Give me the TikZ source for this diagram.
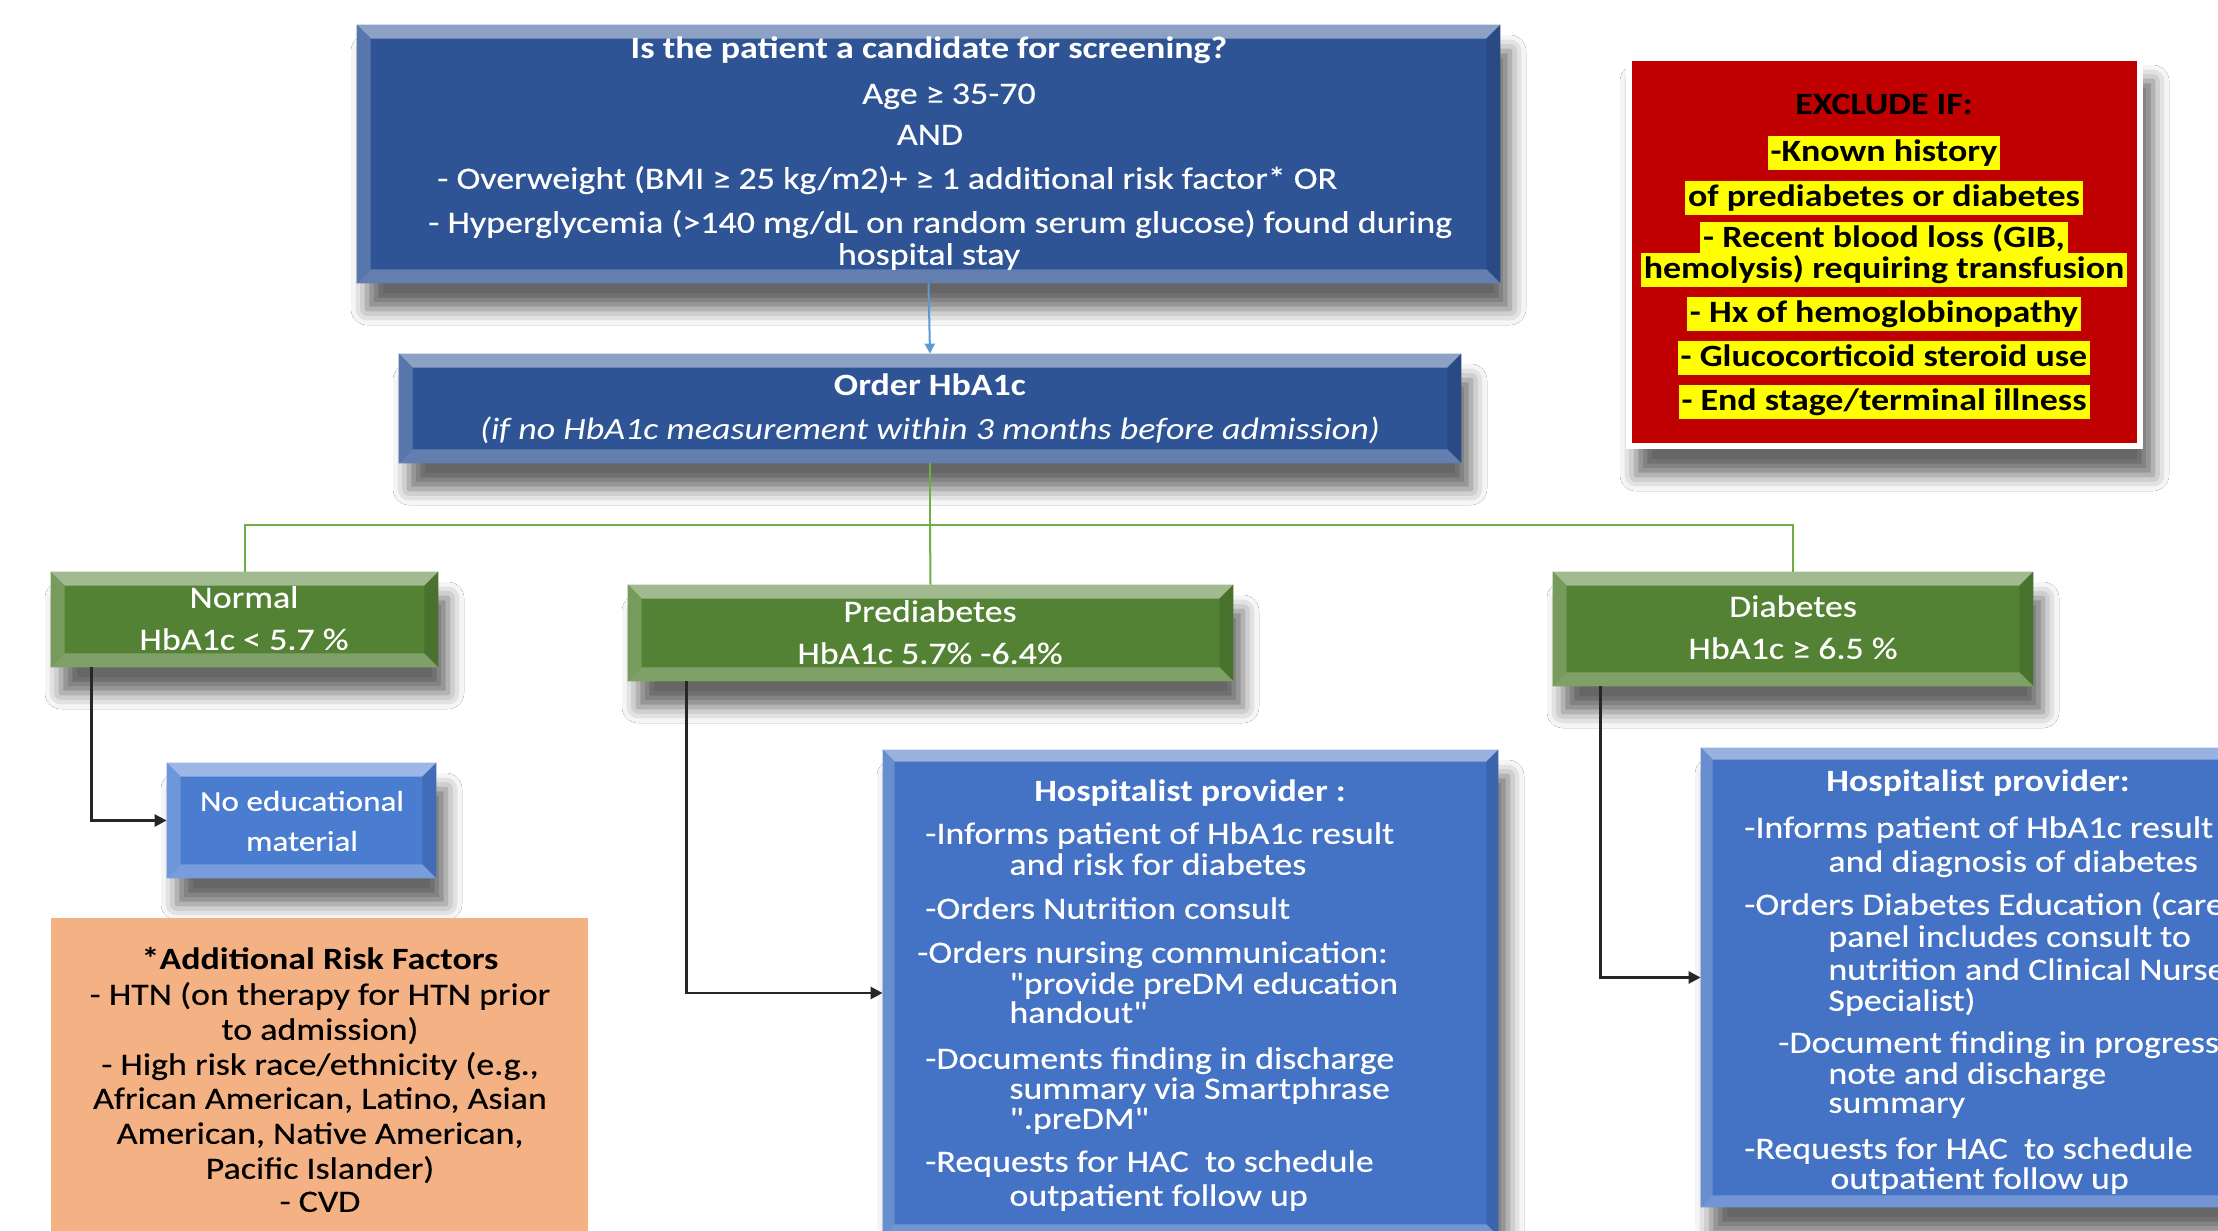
\documentclass[tikz,border=0pt]{standalone}
\usepackage{fontspec}
\setmainfont{Carlito}[FakeStretch=1.16, Ligatures=TeXOff, UprightFeatures={FakeBold=0.4}]
\usetikzlibrary{calc,fit,shadows.blur,arrows.meta}
\definecolor{dblue}{RGB}{47,84,150}
\definecolor{mblue}{RGB}{68,114,196}
\definecolor{eblue}{RGB}{74,124,208}
\definecolor{dgreen}{RGB}{84,130,53}
\definecolor{lgreen}{RGB}{112,173,71}
\definecolor{dred}{RGB}{192,0,0}
\definecolor{salmon}{RGB}{244,177,131}
\definecolor{lblue}{RGB}{91,155,213}
\definecolor{hlyellow}{RGB}{255,255,0}
\newcommand\myfs{\fontsize{15.5}{17}\selectfont}
\newcommand\smfs{\fontsize{14.3}{16}\selectfont}
\newcommand\bev[3]{%
\fill[#2!55!white] (#1.north west)--(#1.north east)--($(#1.north east)+(-#3,#3)$)--($(#1.north west)+(#3,#3)$)--cycle;
\fill[#2!80!white] (#1.north west)--($(#1.north west)+(#3,#3)$)--($(#1.south west)+(#3,-#3)$)--(#1.south west)--cycle;
\fill[#2!88!black] (#1.north east)--($(#1.north east)+(-#3,#3)$)--($(#1.south east)+(-#3,-#3)$)--(#1.south east)--cycle;
\fill[#2!75!white] (#1.south west)--($(#1.south west)+(#3,-#3)$)--($(#1.south east)+(-#3,-#3)$)--(#1.south east)--cycle;}
\tikzset{
 boxs/.style={inner sep=0, draw=none, blur shadow={shadow xshift=5pt, shadow yshift=-13pt, shadow blur radius=8pt, shadow opacity=60}},
 wt/.style={text=white, inner sep=0, anchor=mid, font=\myfs, yshift=-3pt},
 wtl/.style={wt, anchor=mid west},
 hl/.style={fill=hlyellow, text=black, font=\myfs\bfseries, inner xsep=1.5pt, inner ysep=1pt, text height=11.5pt, text depth=3.5pt, anchor=center, yshift=-1pt},
 bt/.style={text=black, inner sep=0, anchor=mid, font=\myfs, yshift=-3.5pt},
 blk/.style={draw=black!85, line width=1.3pt, -{Triangle[length=6pt,width=6pt]}},
 grn/.style={draw=lgreen, line width=1pt},
 tp/.style={yshift=1pt},
}
\begin{document}
\begin{tikzpicture}[x=0.5pt,y=-0.5pt]
\fill[white] (0,0) rectangle (2218,1231);
\useasboundingbox (0,0) rectangle (2218,1231);
\clip (0,0) rectangle (2218,1231);

% ---------- boxes ----------
\node[boxs, fill=dblue, fit={(357,25)(1500,283)}] (top) {};
\bev{top}{dblue}{14}
\node[boxs, fill=dblue, fit={(399,354)(1461,463)}] (order) {};
\bev{order}{dblue}{14}
\node[boxs, fill=dgreen, fit={(51,572)(438,667)}] (normal) {};
\bev{normal}{dgreen}{14}
\node[boxs, fill=dgreen, fit={(628,585)(1233,681)}] (pre) {};
\bev{pre}{dgreen}{14}
\node[boxs, fill=dgreen, fit={(1553,572)(2033,686)}] (dia) {};
\bev{dia}{dgreen}{14}
\node[boxs, fill=eblue, fit={(167,763)(436,878)}] (noedu) {};
\bev{noedu}{eblue}{14}
\node[boxs, fill=mblue, fit={(883,750)(1498,1236)}] (preH) {};
\bev{preH}{mblue}{12}
\node[boxs, fill=mblue, fit={(1701,748)(2260,1207)}] (diaH) {};
\bev{diaH}{mblue}{12}
\node[inner sep=0, fill=salmon, fit={(51,918)(588,1260)}] (risk) {};
\node[boxs, fill=white, fit={(1626,55)(2143,449)}] (exframe) {};
\node[inner sep=0, fill=dred, fit={(1632,61)(2137,443)}] (excl) {};

% ---------- connectors ----------
\draw[draw=lblue, line width=1pt, -{Triangle[length=5pt,width=5pt]}] (top.south) -- (order.north);
\coordinate (split) at (930,525);
\draw[grn] (order.south) -- (split);
\draw[grn] (split) -| (normal.north);
\draw[grn] (split) -| (dia.north);
\draw[grn] (split) -- (pre.north);
\draw[blk] ($(normal.south west)+(41,0)$) |- (noedu.west);
\draw[blk] ($(pre.south west)+(59,0)$) |- (preH.west);
\draw[blk] ($(dia.south west)+(48,0)$) |- (diaH.west);

% ---------- top box text ----------
\node[wt, tp, font=\myfs\bfseries] (t1) at (929,50) {Is the patient a candidate for screening?};
\node[wt, tp] (t2) at (949,95) {Age ≥ 35-70};
\node[wt, tp] (t3) at (930,136) {AND};
\node[wtl, tp] (t4) at (437,180) {- Overweight (BMI ≥ 25 kg/m2)+ ≥ 1 additional risk factor* OR};
\node[wtl, tp] (t5) at (428,224) {- Hyperglycemia (>140 mg/dL on random serum glucose) found during};
\node[wt, tp] (t6) at (929,256) {hospital stay};

% ---------- order text ----------
\node[wt, font=\myfs\bfseries] (o1) at (930,385) {Order HbA1c};
\node[wt, font=\myfs\itshape] (o2) at (930,429) {(if no HbA1c measurement within 3 months before admission)};

% ---------- green texts ----------
\node[wt] (n1) at (244,597) {Normal};
\node[wt] (n2) at (244,639) {HbA1c < 5.7 \%};
\node[wt] (p1) at (930,611) {Prediabetes};
\node[wt] (p2) at (930,653) {HbA1c 5.7\% -6.4\%};
\node[wt] (d1) at (1793,606) {Diabetes};
\node[wt] (d2) at (1793,648) {HbA1c ≥ 6.5 \%};

% ---------- no educational ----------
\node[wt, font=\smfs] (e1) at (302,800) {No educational};
\node[wt, font=\smfs] (e2) at (302,840) {material};

% ---------- prediabetes hospitalist ----------
\node[wt, font=\myfs\bfseries] (ph0) at (1190,791) {Hospitalist provider :};
\node[wtl] (ph1) at (925,833) {-Informs patient of HbA1c result};
\node[wtl] (ph2) at (1009,864) {and risk for diabetes};
\node[wtl] (ph3) at (925,908) {-Orders Nutrition consult};
\node[wtl] (ph4) at (917,952) {-Orders nursing communication:};
\node[wtl] (ph5) at (1009,983) {"provide preDM education};
\node[wtl] (ph6) at (1009,1012) {handout"};
\node[wtl] (ph7) at (925,1058) {-Documents finding in discharge};
\node[wtl] (ph8) at (1009,1088) {summary via Smartphrase};
\node[wtl] (ph9) at (1009,1118) {".preDM"};
\node[wtl] (ph10) at (925,1161) {-Requests for HAC~ to schedule};
\node[wtl] (ph11) at (1009,1195) {outpatient follow up};

% ---------- diabetes hospitalist ----------
\node[wtl, font=\myfs\bfseries] (dh0) at (1826,781) {Hospitalist provider:};
\node[wtl] (dh1) at (1744,827) {-Informs patient of HbA1c result};
\node[wtl] (dh2) at (1828,861) {and diagnosis of diabetes};
\node[wtl] (dh3) at (1744,904) {-Orders Diabetes Education (care};
\node[wtl] (dh4) at (1828,936) {panel includes consult to};
\node[wtl] (dh5) at (1828,969) {nutrition and Clinical Nurse};
\node[wtl] (dh6) at (1828,1000) {Specialist)};
\node[wtl] (dh7) at (1778,1042) {-Document finding in progress};
\node[wtl] (dh8) at (1828,1073) {note and discharge};
\node[wtl] (dh9) at (1828,1102) {summary};
\node[wtl] (dh10) at (1744,1148) {-Requests for HAC~ to schedule};
\node[wtl] (dh11) at (1830,1178) {outpatient follow up};

% ---------- risk factors ----------
\node[bt, font=\myfs\bfseries] (r0) at (320,958) {*Additional Risk Factors};
\node[bt] (r1) at (320,993) {- HTN (on therapy for HTN prior};
\node[bt] (r2) at (320,1028) {to admission)};
\node[bt] (r3) at (320,1063) {- High risk race/ethnicity (e.g.,};
\node[bt] (r4) at (320,1097) {African American, Latino, Asian};
\node[bt] (r5) at (320,1132) {American, Native American,};
\node[bt] (r6) at (320,1167) {Pacific Islander)};
\node[bt] (r7) at (320,1200) {- CVD};

% ---------- exclude ----------
\node[bt, font=\myfs\bfseries, yshift=2pt] (x0) at (1884,107) {EXCLUDE IF:};
\node[hl] (x1) at (1884,151) {-Known history};
\node[hl] (x2) at (1884,196) {of prediabetes or diabetes};
\node[hl] (x3) at (1884,237) {- Recent blood loss (GIB,};
\node[hl] (x4) at (1884,268) {hemolysis) requiring transfusion};
\node[hl] (x5) at (1884,312) {- Hx of hemoglobinopathy};
\node[hl] (x6) at (1884,356) {- Glucocorticoid steroid use};
\node[hl] (x7) at (1884,400) {- End stage/terminal illness};
\end{tikzpicture}
\end{document}
